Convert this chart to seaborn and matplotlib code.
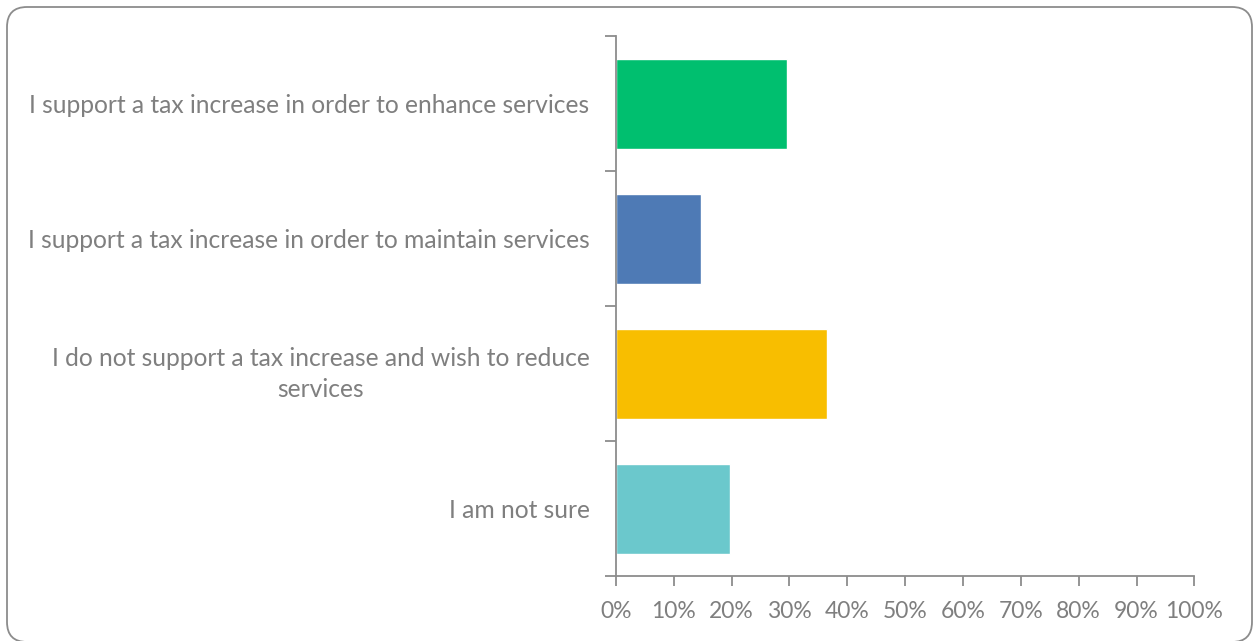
import matplotlib
matplotlib.use("Agg")
import matplotlib.pyplot as plt
from matplotlib.patches import FancyBboxPatch
from matplotlib.ticker import FixedLocator, PercentFormatter
import seaborn as sns
import pandas as pd

categories = [
    "I support a tax increase in order to enhance services",
    "I support a tax increase in order to maintain services",
    "I do not support a tax increase and wish to reduce\nservices",
    "I am not sure",
]
shares = [29.5, 14.7, 36.4, 19.8]
colors = ["#00BF6F", "#4E7AB5", "#F8BE00", "#6BC8CC"]
x_ticks = list(range(0, 101, 10))

sns.set_theme(style="white")
plt.rcParams["font.family"] = ["Lato", "DejaVu Sans"]

grey_text = "#7F7F7F"
axis_grey = "#8C8C8C"

df = pd.DataFrame({"answer": categories, "share": shares})

W, H = 1253, 641
fig = plt.figure(figsize=(W / 100, H / 100), dpi=100)
ax = fig.add_axes([0.4916, 0.1009, 0.9532 - 0.4916, 0.9434 - 0.1009])

sns.barplot(data=df, y="answer", x="share", hue="answer", palette=colors,
            orient="h", width=0.67, legend=False, ax=ax, saturation=1)

ax.set_xlim(0, 100)
ax.set_ylim(len(categories) - 0.5, -0.5)
ax.set_xticks(x_ticks)
ax.xaxis.set_major_formatter(PercentFormatter(decimals=0))
ax.set_xlabel("")
ax.set_ylabel("")

for side in ["top", "right"]:
    ax.spines[side].set_visible(False)
for side in ["left", "bottom"]:
    ax.spines[side].set_color(axis_grey)
    ax.spines[side].set_linewidth(1.3)

ax.tick_params(axis="x", which="major", direction="out", length=7, width=1.3,
               color=axis_grey, colors=grey_text, labelsize=16.5, pad=11, bottom=True)
ax.tick_params(axis="y", which="major", length=0, labelsize=17.7, colors=grey_text, pad=19)
ax.yaxis.set_minor_locator(FixedLocator([-0.5, 0.5, 1.5, 2.5, 3.5]))
ax.tick_params(axis="y", which="minor", direction="out", length=8, width=1.3,
               color=axis_grey, left=True)
for lbl in ax.get_yticklabels():
    lbl.set_multialignment("center")
    lbl.set_linespacing(1.45)
    lbl.set_color(grey_text)
    if "\n" in lbl.get_text():
        lbl.set_verticalalignment("center")
for lbl in ax.get_xticklabels():
    lbl.set_color(grey_text)

# rounded outer border of the chart area
x0, x1, y0, y1, r = 7, 1252, 7, 642, 20
frame = FancyBboxPatch((x0 / W, 1 - y1 / H), (x1 - x0) / W, (y1 - y0) / H,
                       boxstyle=f"round,pad=0,rounding_size={r / W}",
                       transform=fig.transFigure, facecolor="none",
                       edgecolor="#8C8C8C", linewidth=1.3, mutation_aspect=W / H)
fig.patches.append(frame)

fig.savefig("out.png", dpi=100, facecolor="white")
